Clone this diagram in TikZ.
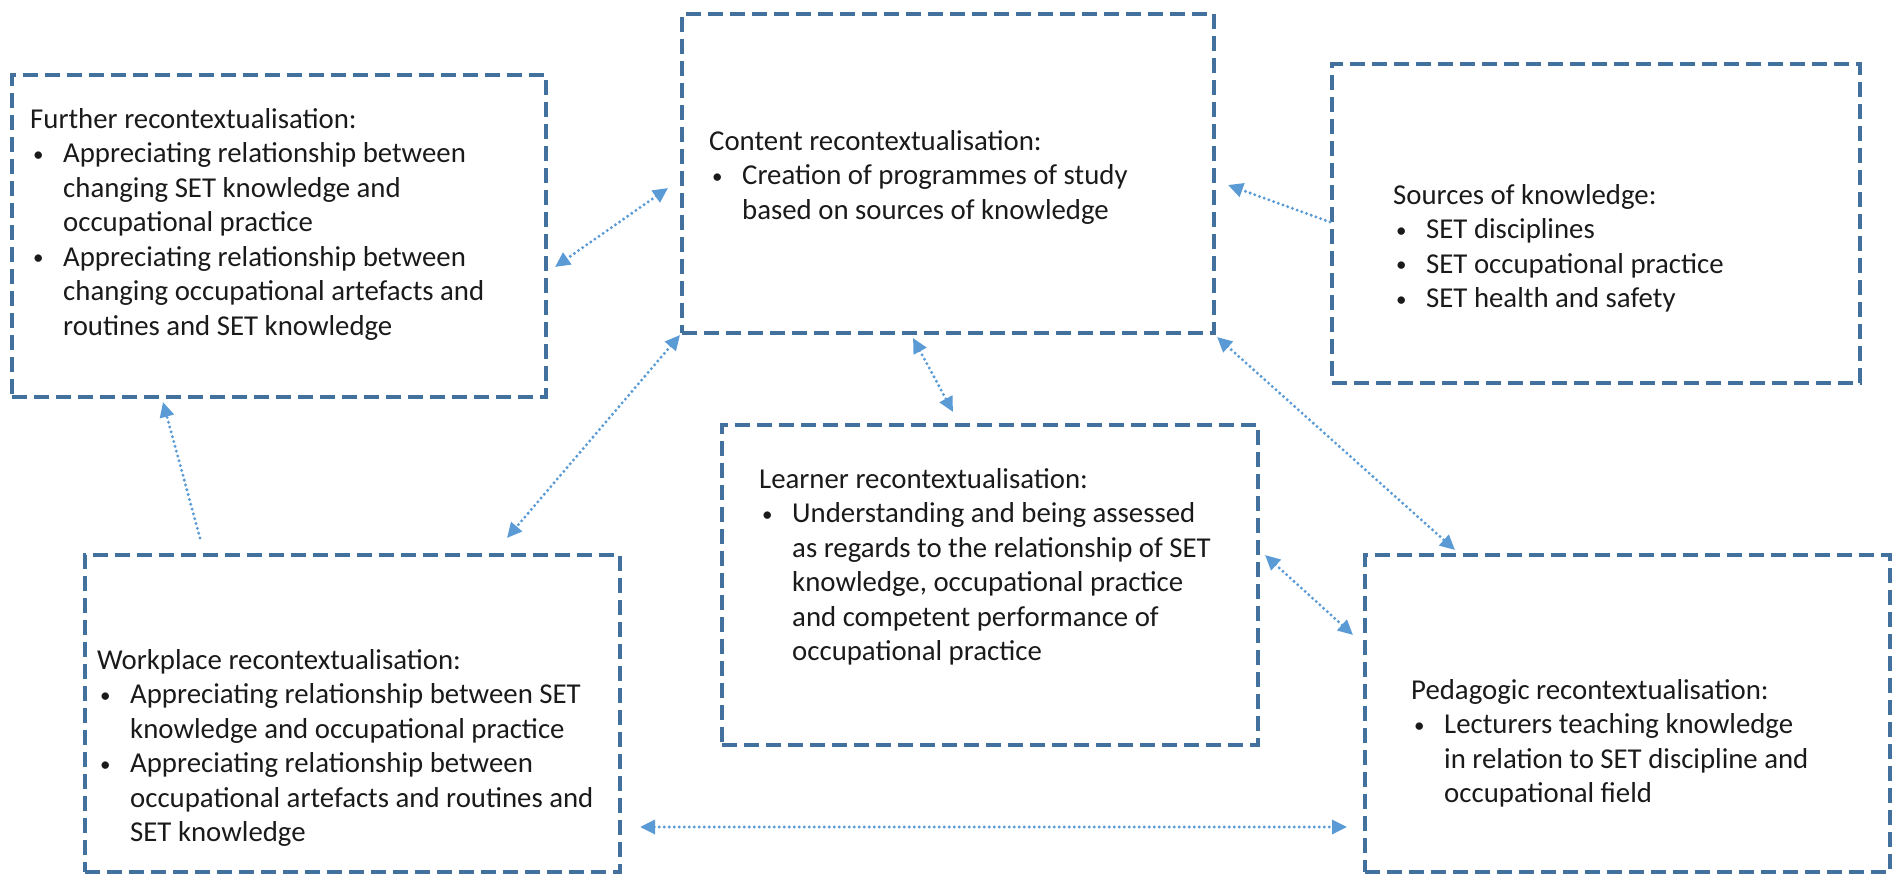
\documentclass[tikz,border=0pt]{standalone}
\usepackage{fontspec}
\setmainfont{Carlito}
\usetikzlibrary{arrows.meta,calc}
\definecolor{boxblue}{HTML}{41719C}
\definecolor{arrblue}{HTML}{5B9BD5}
\definecolor{txtcol}{HTML}{1A1A1A}
\newcommand\bl{\makebox[33pt][l]{\hspace*{3pt}\raisebox{1.5pt}{\fontsize{21}{21}\selectfont•}}}
\newcommand\ind{\hspace*{33pt}}
\tikzset{
  boxnode/.style={draw=boxblue, line width=4.5pt, dash pattern=on 15pt off 7pt, inner sep=0pt, outer sep=0pt, rectangle},
  txt/.style={align=left, inner sep=0pt, anchor=north west, text=txtcol, font=\fontsize{28.8}{34.5}\selectfont},
  conn/.style={draw=arrblue, line width=3.3pt, dash pattern=on 0pt off 5pt, line cap=round},
  tip/.style={-{Triangle[length=15pt,width=14pt]}},
  tips/.style={{Triangle[length=15pt,width=14pt]}-{Triangle[length=15pt,width=14pt]}}
}
\begin{document}
\begin{tikzpicture}[x=1pt,y=-1pt]
\useasboundingbox (0,0) rectangle (1894,877);
% boxes
\node[boxnode, minimum width=534pt, minimum height=322pt] (further) at (279,236) {};
\node[boxnode, minimum width=532pt, minimum height=319pt] (content) at (948,173.5) {};
\node[boxnode, minimum width=528pt, minimum height=319pt] (sources) at (1596,223.5) {};
\node[boxnode, minimum width=536pt, minimum height=320pt] (learner) at (990,585) {};
\node[boxnode, minimum width=535pt, minimum height=317pt] (workplace) at (352.5,713.5) {};
\node[boxnode, minimum width=525pt, minimum height=317pt] (pedagogic) at (1627.5,713.5) {};
% texts
\node[txt] (tfurther) at (30,108) {Further recontextualisation:\\
\bl Appreciating relationship between\\
\ind changing SET knowledge and\\
\ind occupational practice\\
\bl Appreciating relationship between\\
\ind changing occupational artefacts and\\
\ind routines and SET knowledge};
\node[txt] (tcontent) at (709,130) {Content recontextualisation:\\
\bl Creation of programmes of study\\
\ind based on sources of knowledge};
\node[txt] (tsources) at (1393,184) {Sources of knowledge:\\
\bl SET disciplines\\
\bl SET occupational practice\\
\bl SET health and safety};
\node[txt] (tlearner) at (759,468) {Learner recontextualisation:\\
\bl Understanding and being assessed\\
\ind as regards to the relationship of SET\\
\ind knowledge, occupational practice\\
\ind and competent performance of\\
\ind occupational practice};
\node[txt] (tworkplace) at (97,649) {Workplace recontextualisation:\\
\bl Appreciating relationship between SET\\
\ind knowledge and occupational practice\\
\bl Appreciating relationship between\\
\ind occupational artefacts and routines and\\
\ind SET knowledge};
\node[txt] (tpedagogic) at (1411,679) {Pedagogic recontextualisation:\\
\bl Lecturers teaching knowledge\\
\ind in relation to SET discipline and\\
\ind occupational field};
% connector end points
\coordinate (cf1) at ($(content.north west)+(-14,174)$);
\coordinate (cf2) at ($(further.north east)+(9,192)$);
\coordinate (sc1) at ($(sources.north west)+(-2,158)$);
\coordinate (sc2) at ($(content.north east)+(14,171)$);
\coordinate (cl1) at ($(content.south west)+(231,5)$);
\coordinate (cl2) at ($(learner.north west)+(231,-13)$);
\coordinate (cw1) at ($(content.south west)+(-2,2)$);
\coordinate (cw2) at ($(workplace.north west)+(422,-17)$);
\coordinate (cp1) at ($(content.south east)+(3,4)$);
\coordinate (cp2) at ($(pedagogic.north west)+(90,-5)$);
\coordinate (wf1) at ($(workplace.north west)+(115,-17)$);
\coordinate (wf2) at ($(further.south west)+(151,5)$);
\coordinate (lp1) at ($(learner.north east)+(7,130)$);
\coordinate (lp2) at ($(pedagogic.north west)+(-12,80)$);
\coordinate (wp1) at ($(workplace.south east)+(20,-45)$);
\coordinate (wp2) at ($(pedagogic.south west)+(-18,-45)$);
% connectors
\draw[conn, tips] (cf1) -- (cf2);
\draw[conn, tip] (sc1) -- (sc2);
\draw[conn, tips] (cl1) -- (cl2);
\draw[conn, tips] (cw1) -- (cw2);
\draw[conn, tips] (cp1) -- (cp2);
\draw[conn, tip] (wf1) -- (wf2);
\draw[conn, tips] (lp1) -- (lp2);
\draw[conn, tips] (wp1) -- (wp2);
\end{tikzpicture}
\end{document}
